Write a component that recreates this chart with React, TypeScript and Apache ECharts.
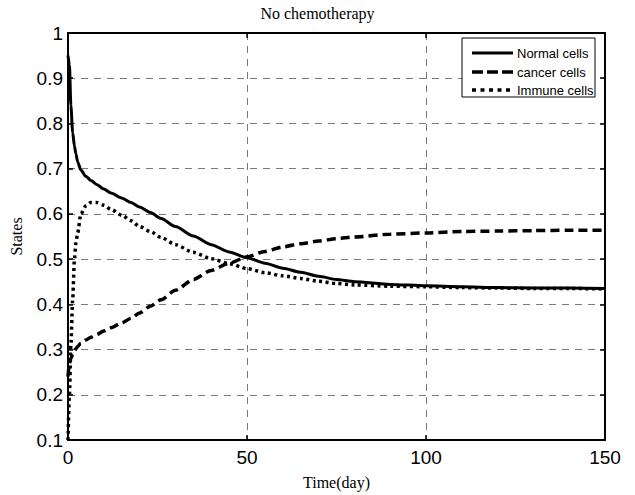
import React, { useEffect, useRef } from "react";
import * as echarts from "echarts";

const times = [0, 0.4, 0.8, 1.3, 1.8, 2.2, 2.7, 3.6, 5, 6.4, 8, 10, 12, 15, 17.6, 20, 23, 26, 30, 35, 40, 45, 50, 55, 60, 65, 70, 75, 80, 90, 100, 110, 120, 130, 140, 150];
const normalCells = [0.95, 0.93, 0.84, 0.78, 0.75, 0.733, 0.715, 0.697, 0.683, 0.674, 0.665, 0.655, 0.646, 0.635, 0.625, 0.615, 0.603, 0.59, 0.572, 0.551, 0.532, 0.516, 0.503, 0.491, 0.48, 0.471, 0.462, 0.455, 0.45, 0.444, 0.441, 0.439, 0.437, 0.436, 0.436, 0.435];
const cancerCells = [0.24, 0.27, 0.28, 0.29, 0.298, 0.302, 0.307, 0.314, 0.321, 0.327, 0.333, 0.341, 0.348, 0.359, 0.369, 0.381, 0.396, 0.41, 0.431, 0.455, 0.475, 0.491, 0.505, 0.517, 0.527, 0.534, 0.54, 0.545, 0.549, 0.555, 0.558, 0.561, 0.562, 0.563, 0.564, 0.564];
const immuneCells = [0.1, 0.2, 0.31, 0.41, 0.5, 0.535, 0.558, 0.6, 0.618, 0.625, 0.625, 0.619, 0.61, 0.597, 0.585, 0.572, 0.561, 0.548, 0.532, 0.515, 0.501, 0.49, 0.479, 0.47, 0.463, 0.457, 0.451, 0.446, 0.443, 0.44, 0.439, 0.437, 0.436, 0.435, 0.435, 0.434];
const seriesNames = ["Normal cells", "cancer cells", "Immune cells"];
const title = "No chemotherapy";
const xName = "Time(day)";
const yName = "States";

const pairs = (vals: number[]) => times.map((t, i) => [t, vals[i]]);

export default function App() {
  const ref = useRef<HTMLDivElement>(null);
  useEffect(() => {
    if (!ref.current) return;
    const chart = echarts.init(ref.current, null, { renderer: "svg" });
    const tickFont = { fontFamily: "Liberation Sans", fontSize: 19, color: "#000" };
    const gridLine = { show: true, lineStyle: { color: "#7a7a7a", type: [7, 6] as any, width: 1 } };
    const frame = { show: true, onZero: false, lineStyle: { color: "#000", width: 2 } };
    const ticks = { show: true, inside: true, length: 5, lineStyle: { color: "#000", width: 1.5 } };
    const fmt = (v: number) => String(parseFloat(v.toFixed(1)));
    const styles: { dash: any; width: number; legendDash: any }[] = [
      { dash: "solid", width: 3, legendDash: null },
      { dash: [9, 5], width: 3.5, legendDash: [11, 4] },
      { dash: [3, 3.5], width: 3.5, legendDash: [4, 4.5] },
    ];
    const lineSeries = (name: string, vals: number[], idx: number) => ({
      name,
      type: "line",
      data: pairs(vals),
      showSymbol: false,
      symbol: "none",
      smooth: 0.25,
      smoothMonotone: "x",
      lineStyle: { color: "#000", width: styles[idx].width, type: styles[idx].dash, cap: "butt" },
      itemStyle: { color: "#000" },
      z: 5,
    });
    const legendX = 462;
    const legendY = 38;
    const rowY = [15, 34, 52];
    const legendElems: any[] = [
      {
        type: "rect",
        shape: { x: legendX, y: legendY, width: 133, height: 59 },
        style: { fill: "#fff", stroke: "#000", lineWidth: 1 },
        z: 100,
      },
    ];
    seriesNames.forEach((n, i) => {
      const y = legendY + rowY[i];
      legendElems.push({
        type: "line",
        shape: { x1: legendX + 10, y1: y, x2: legendX + 51, y2: y },
        style: {
          stroke: "#000",
          lineWidth: styles[i].width,
          lineDash: styles[i].legendDash,
        },
        z: 101,
      });
      legendElems.push({
        type: "text",
        x: legendX + 55,
        y,
        style: {
          text: n,
          fill: "#000",
          fontSize: 13,
          fontFamily: "Liberation Sans",
          verticalAlign: "middle",
        },
        z: 101,
      });
    });
    chart.setOption({
      animation: false,
      backgroundColor: "#fff",
      title: {
        text: title,
        left: "center",
        top: 0,
        textStyle: { fontFamily: "Liberation Serif", fontSize: 16, fontWeight: "normal", color: "#000" },
      },
      grid: { left: 67, right: 30, top: 33, bottom: 48, show: false },
      graphic: legendElems,
      xAxis: [
        {
          type: "value",
          min: 0,
          max: 150,
          interval: 50,
          name: xName,
          nameLocation: "middle",
          nameGap: 34,
          nameTextStyle: { fontFamily: "Liberation Serif", fontSize: 16, color: "#000" },
          axisLine: frame,
          axisTick: ticks,
          axisLabel: { ...tickFont, margin: 8 },
          splitLine: gridLine,
        },
        {
          type: "value",
          position: "top",
          min: 0,
          max: 150,
          interval: 50,
          axisLine: frame,
          axisTick: ticks,
          axisLabel: { show: false },
          splitLine: { show: false },
        },
      ],
      yAxis: [
        {
          type: "value",
          min: 0.1,
          max: 1,
          interval: 0.1,
          name: yName,
          nameLocation: "middle",
          nameGap: 44,
          nameTextStyle: { fontFamily: "Liberation Serif", fontSize: 16, color: "#000" },
          axisLine: frame,
          axisTick: ticks,
          axisLabel: { ...tickFont, margin: 5, formatter: fmt },
          splitLine: gridLine,
        },
        {
          type: "value",
          position: "right",
          min: 0.1,
          max: 1,
          interval: 0.1,
          axisLine: frame,
          axisTick: ticks,
          axisLabel: { show: false },
          splitLine: { show: false },
        },
      ],
      series: [
        lineSeries(seriesNames[0], normalCells, 0),
        lineSeries(seriesNames[1], cancerCells, 1),
        lineSeries(seriesNames[2], immuneCells, 2),
      ],
    });
    return () => chart.dispose();
  }, []);
  return <div ref={ref} style={{ position: "fixed", left: 0, top: 0, width: 635, height: 495 }} />;
}
